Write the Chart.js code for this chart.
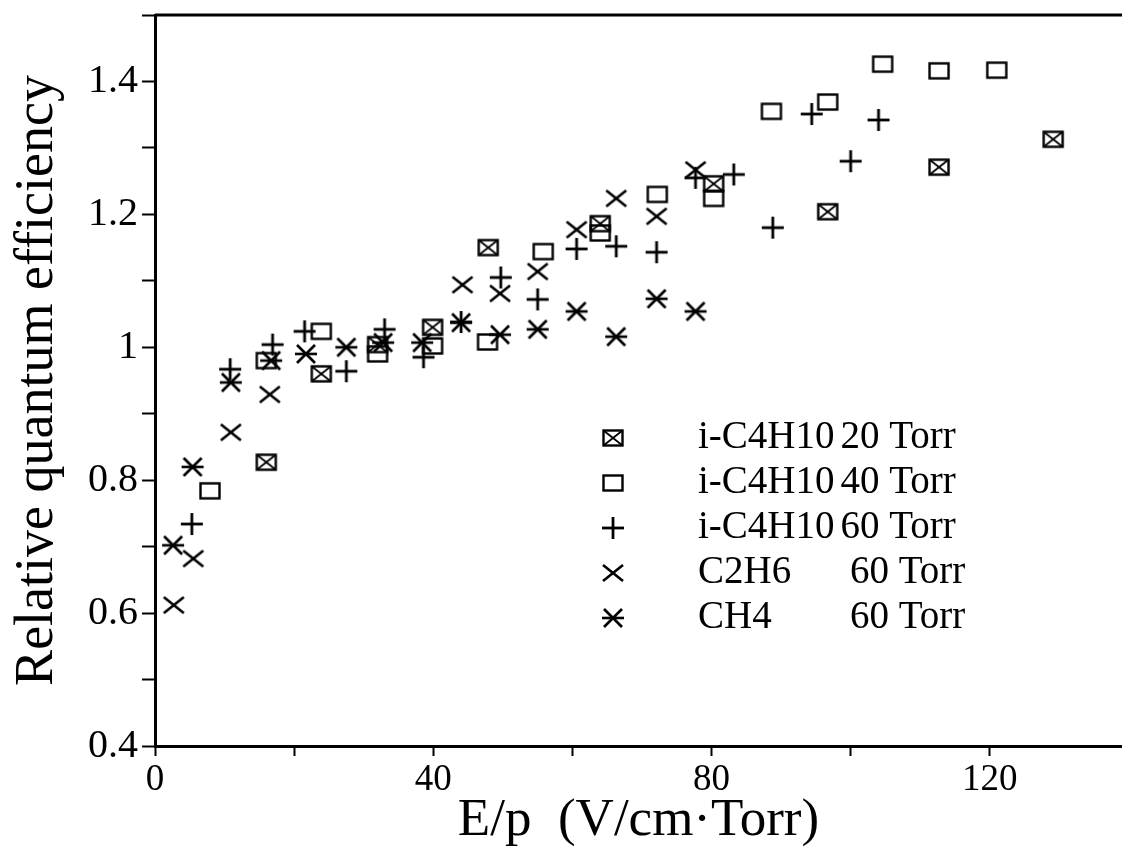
<!DOCTYPE html>
<html>
<head>
<meta charset="utf-8">
<script src="https://cdn.jsdelivr.net/npm/chart.js@4.4.1/dist/chart.umd.min.js"></script>
<style>
  html, body { margin: 0; padding: 0; background: #fff; overflow: hidden; }
  #wrap { width: 1122px; height: 862px; }
  #qeChart { display: block; }
</style>
</head>
<body>
<div id="wrap"><canvas id="qeChart" width="1122" height="862"></canvas></div>
<script>
// series names for the legend
const seriesGas = ['i-C4H10', 'i-C4H10', 'i-C4H10', 'C2H6', 'CH4'];
const seriesPressure = ['20 Torr', '40 Torr', '60 Torr', '60 Torr', '60 Torr'];

// i-C4H10 20 Torr
const ic20X = [16.0, 23.9, 32.0, 39.9, 47.9, 64.0, 80.3, 96.7, 112.7, 129.1];
const ic20Y = [0.827, 0.960, 1.004, 1.030, 1.150, 1.186, 1.246, 1.204, 1.271, 1.313];
// i-C4H10 40 Torr
const ic40X = [7.9, 16.0, 23.9, 32.0, 39.9, 47.8, 55.8, 64.0, 72.2, 80.3, 88.6, 96.7, 104.6, 112.7, 121.0];
const ic40Y = [0.784, 0.980, 1.024, 0.990, 1.002, 1.008, 1.144, 1.172, 1.230, 1.224, 1.355, 1.369, 1.426, 1.416, 1.417];
// i-C4H10 60 Torr
const ic60X = [5.3, 10.8, 16.9, 21.5, 27.5, 33.0, 38.6, 44.0, 49.7, 55.0, 60.6, 66.3, 72.1, 77.7, 83.2, 88.8, 94.4, 100.0, 104.0];
const ic60Y = [0.734, 0.967, 1.004, 1.024, 0.964, 1.027, 0.985, 1.038, 1.105, 1.072, 1.148, 1.152, 1.143, 1.255, 1.260, 1.180, 1.351, 1.280, 1.342];
// C2H6 60 Torr
const c2h6X = [2.7, 5.5, 10.9, 16.5, 44.2, 49.6, 55.0, 60.6, 66.3, 72.1, 77.7];
const c2h6Y = [0.612, 0.682, 0.872, 0.929, 1.094, 1.081, 1.114, 1.177, 1.224, 1.197, 1.267];
// CH4 60 Torr
const ch4X = [2.6, 5.4, 10.9, 16.7, 21.7, 27.5, 32.8, 38.4, 44.0, 49.6, 55.0, 60.6, 66.3, 72.1, 77.7];
const ch4Y = [0.702, 0.820, 0.947, 0.980, 0.990, 1.000, 1.007, 1.007, 1.037, 1.019, 1.027, 1.054, 1.016, 1.073, 1.054];

// axis ticks
const xMin = 0, xMax = 139, xStep = 20, xLabelEvery = 40;
const yMin = 0.4, yMax = 1.5, yStep = 0.1;

const serif = "'Liberation Serif', 'Times New Roman', serif";

// little canvases used as point styles
function makeMarker(kind) {
  const c = document.createElement('canvas');
  c.width = 26; c.height = 26;
  const g = c.getContext('2d');
  g.strokeStyle = '#000';
  g.lineWidth = 2.4;
  g.lineCap = 'butt';
  const line = (x1, y1, x2, y2) => { g.beginPath(); g.moveTo(x1, y1); g.lineTo(x2, y2); g.stroke(); };
  if (kind === 'boxx') {
    g.strokeRect(3.5, 5.5, 19, 15);
    g.lineWidth = 1.8;
    line(3.5, 5.5, 22.5, 20.5);
    line(3.5, 20.5, 22.5, 5.5);
  } else if (kind === 'box') {
    g.strokeRect(3.5, 5.5, 19, 15);
  } else if (kind === 'plus') {
    g.lineWidth = 2.8;
    line(2, 13, 24, 13);
    line(13, 2, 13, 24);
  } else if (kind === 'cross') {
    g.lineWidth = 2.6;
    line(3, 5, 23, 21);
    line(3, 21, 23, 5);
  } else if (kind === 'star') {
    g.lineWidth = 2.6;
    line(2, 13, 24, 13);
    line(4, 4, 22, 22);
    line(4, 22, 22, 4);
  }
  return c;
}

const markers = ['boxx', 'box', 'plus', 'cross', 'star'].map(makeMarker);

function pts(xs, ys) {
  return xs.map((x, i) => ({ x: x, y: ys[i] }));
}

const seriesData = [
  pts(ic20X, ic20Y),
  pts(ic40X, ic40Y),
  pts(ic60X, ic60Y),
  pts(c2h6X, c2h6Y),
  pts(ch4X, ch4Y)
];

const datasets = seriesData.map((d, i) => ({
  label: seriesGas[i] + ' ' + seriesPressure[i],
  data: d,
  pointStyle: markers[i],
  pointRadius: 10,
  showLine: false
}));

// frame line on top and the in-plot legend
const framePlugin = {
  id: 'framePlugin',
  afterDatasetsDraw(chart) {
    const ctx = chart.ctx;
    const a = chart.chartArea;
    ctx.save();
    ctx.strokeStyle = '#000';
    ctx.lineWidth = 3;
    ctx.beginPath();
    ctx.moveTo(a.left, a.top);
    ctx.lineTo(a.right, a.top);
    ctx.stroke();

    ctx.font = '39px ' + serif;
    ctx.fillStyle = '#000';
    ctx.textBaseline = 'middle';
    ctx.textAlign = 'left';
    const markX = 613, gasX = 698, rowY = 438, rowGap = 45;
    seriesGas.forEach((gas, i) => {
      const y = rowY + i * rowGap;
      const m = markers[i];
      ctx.drawImage(m, markX - m.width / 2, y - m.height / 2);
      ctx.fillText(gas, gasX, y);
      const w = ctx.measureText(gas).width;
      const px = w > 110 ? gasX + w + 6 : 850;
      ctx.fillText(seriesPressure[i], px, y);
    });
    ctx.restore();
  }
};

const ctx = document.getElementById('qeChart').getContext('2d');
const qeChart = new Chart(ctx, {
  type: 'scatter',
  data: { datasets: datasets },
  options: {
    responsive: false,
    animation: false,
    layout: { autoPadding: false, padding: { top: 15, right: 0, left: 0, bottom: 0 } },
    plugins: {
      legend: { display: false },
      tooltip: { enabled: false }
    },
    scales: {
      x: {
        type: 'linear',
        min: xMin,
        max: xMax,
        afterBuildTicks: (scale) => {
          scale.ticks = scale.ticks.filter(t => Math.abs(t.value % xStep) < 1e-6);
        },
        afterFit: (scale) => {
          scale.height = 116;
          scale.paddingLeft = 0;
          scale.paddingRight = 0;
        },
        ticks: {
          stepSize: xStep,
          autoSkip: false,
          maxRotation: 0,
          padding: 2,
          color: '#000',
          font: { family: serif, size: 37 },
          callback: (v) => (Math.round(v) % xLabelEvery === 0 ? String(Math.round(v)) : '')
        },
        grid: {
          drawOnChartArea: false,
          drawTicks: true,
          tickLength: 10,
          tickWidth: 2,
          tickColor: '#000'
        },
        border: { display: true, color: '#000', width: 3 },
        title: {
          display: true,
          text: 'E/p  (V/cm\u00B7Torr)',
          color: '#000',
          font: { family: serif, size: 53 },
          padding: { top: 0, bottom: 9 }
        }
      },
      y: {
        type: 'linear',
        min: yMin,
        max: yMax,
        afterFit: (scale) => {
          scale.width = 155;
          scale.paddingTop = 0;
          scale.paddingBottom = 0;
        },
        ticks: {
          stepSize: yStep,
          autoSkip: false,
          padding: 4,
          color: '#000',
          font: { family: serif, size: 40 },
          callback: (v) => {
            const k = Math.round(v * 10);
            return k % 2 === 0 && k <= 14 ? String(k / 10) : '';
          }
        },
        grid: {
          drawOnChartArea: false,
          drawTicks: true,
          tickLength: 13,
          tickWidth: 2,
          tickColor: '#000'
        },
        border: { display: true, color: '#000', width: 3 },
        title: {
          display: true,
          text: 'Relative quantum efficiency',
          color: '#000',
          font: { family: serif, size: 54 },
          padding: { top: 5, bottom: 0 }
        }
      }
    }
  },
  plugins: [framePlugin]
});
</script>
</body>
</html>
